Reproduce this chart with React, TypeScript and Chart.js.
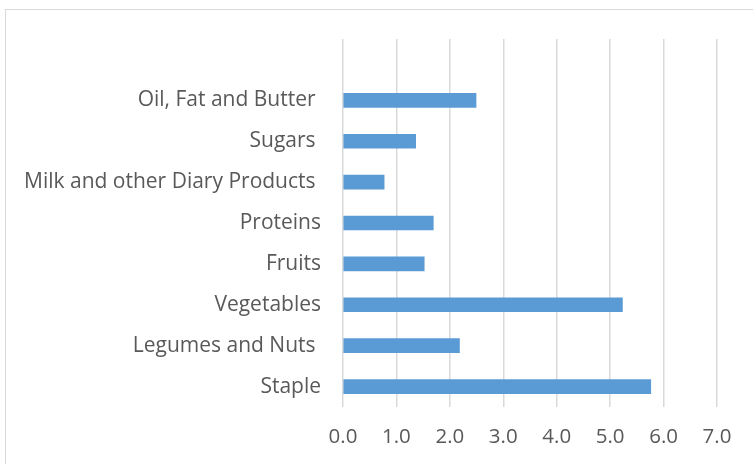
import React, { useEffect, useRef } from "react";
import { Chart, registerables } from "chart.js";

Chart.register(...registerables);

const categories = [
  "",
  "Oil, Fat and Butter ",
  "Sugars ",
  "Milk and other Diary Products ",
  "Proteins",
  "Fruits",
  "Vegetables",
  "Legumes and Nuts ",
  "Staple",
];
const values = [null, 2.49, 1.36, 0.77, 1.69, 1.52, 5.23, 2.18, 5.76];
const xMin = 0;
const xMax = 7;
const xStep = 1;

export default function App() {
  const ref = useRef<HTMLCanvasElement | null>(null);
  useEffect(() => {
    document.body.style.margin = "0";
    const ctx = ref.current!;
    const chart = new Chart(ctx, {
      type: "bar",
      data: {
        labels: categories,
        datasets: [
          {
            data: values as any,
            backgroundColor: "#5b9bd5",
            borderWidth: 0,
            barThickness: 14,
          },
        ],
      },
      options: {
        indexAxis: "y",
        animation: false,
        responsive: false,
        maintainAspectRatio: false,
        layout: { padding: { left: 0, right: 36, top: 39, bottom: 0 } },
        plugins: { legend: { display: false }, tooltip: { enabled: false } },
        scales: {
          x: {
            min: xMin,
            max: xMax,
            ticks: {
              stepSize: xStep,
              color: "#595959",
              font: { family: "Open Sans", size: 20.5 },
              padding: 18,
              callback: (v: any) => Number(v).toFixed(1),
            },
            grid: { color: "#d9d9d9", lineWidth: 1.5, drawTicks: false },
            border: { display: false },
            afterFit: (s: any) => {
              s.height = 57;
            },
          },
          y: {
            ticks: {
              color: "#595959",
              font: { family: "Open Sans", size: 21 },
              padding: 22,
              autoSkip: false,
            },
            grid: { display: false, drawTicks: false },
            border: { display: false },
            afterFit: (s: any) => {
              s.width = 343;
            },
          },
        },
      },
    });
    return () => chart.destroy();
  }, []);
  return (
    <div style={{ position: "relative", width: 753, height: 464, overflow: "hidden", background: "#fff" }}>
      <div
        style={{
          position: "absolute",
          left: 5,
          top: 9,
          width: 800,
          height: 500,
          border: "1.5px solid #d9d9d9",
          boxSizing: "border-box",
        }}
      />
      <canvas ref={ref} width={753} height={464} style={{ position: "absolute", left: 0, top: 0 }} />
    </div>
  );
}
